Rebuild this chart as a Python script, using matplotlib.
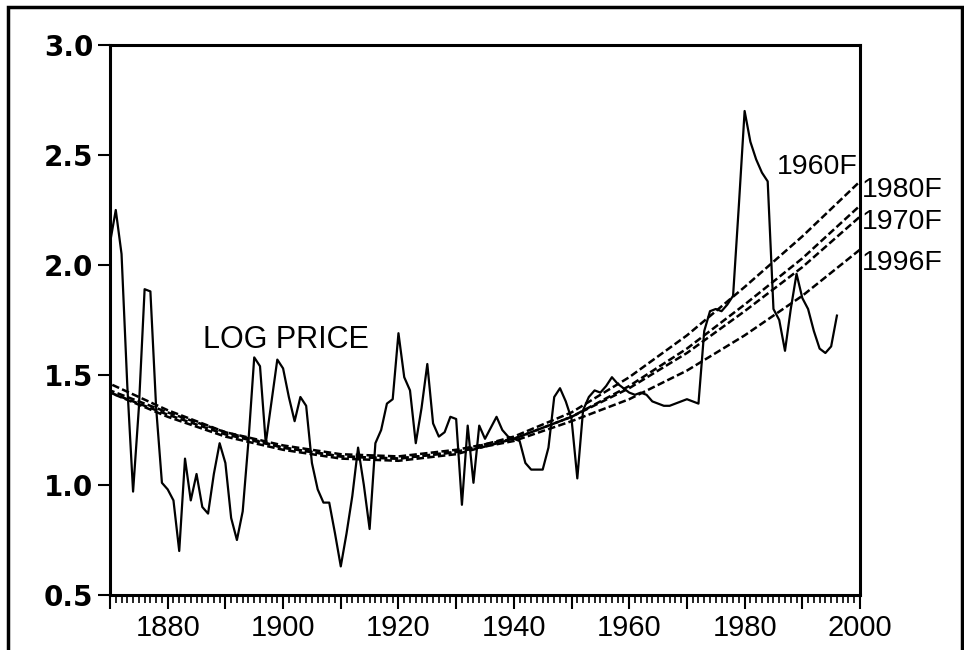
import matplotlib.pyplot as plt
from matplotlib import font_manager
from matplotlib.patches import Rectangle
from matplotlib.ticker import MultipleLocator, FuncFormatter

# ---- du lieu: gia (log) theo nam ----
nam = list(range(1870, 1997))
log_price = [
    2.10, 2.25, 2.05, 1.45, 0.97, 1.35, 1.89, 1.88, 1.35, 1.01,   # 1870-1879
    0.98, 0.93, 0.70, 1.12, 0.93, 1.05, 0.90, 0.87, 1.05, 1.19,   # 1880-1889
    1.10, 0.85, 0.75, 0.88, 1.20, 1.58, 1.54, 1.19, 1.38, 1.57,   # 1890-1899
    1.53, 1.40, 1.29, 1.40, 1.36, 1.10, 0.98, 0.92, 0.92, 0.78,   # 1900-1909
    0.63, 0.78, 0.95, 1.17, 1.00, 0.80, 1.19, 1.25, 1.37, 1.39,   # 1910-1919
    1.69, 1.49, 1.43, 1.19, 1.35, 1.55, 1.28, 1.22, 1.24, 1.31,   # 1920-1929
    1.30, 0.91, 1.27, 1.01, 1.27, 1.21, 1.26, 1.31, 1.25, 1.22,   # 1930-1939
    1.21, 1.20, 1.10, 1.07, 1.07, 1.07, 1.17, 1.40, 1.44, 1.38,   # 1940-1949
    1.30, 1.03, 1.34, 1.40, 1.43, 1.42, 1.45, 1.49, 1.46, 1.44,   # 1950-1959
    1.42, 1.41, 1.42, 1.41, 1.38, 1.37, 1.36, 1.36, 1.37, 1.38,   # 1960-1969
    1.39, 1.38, 1.37, 1.70, 1.79, 1.80, 1.79, 1.82, 1.86, 2.27,   # 1970-1979
    2.70, 2.56, 2.48, 2.42, 2.38, 1.80, 1.75, 1.61, 1.80, 1.96,   # 1980-1989
    1.85, 1.80, 1.70, 1.62, 1.60, 1.63, 1.77,                     # 1990-1996
]

# ---- cac duong xu huong / du bao (doc tu hinh, moi 10 nam) ----
nam_xu_huong = list(range(1870, 2001, 10))
du_bao = {
    "1960F": [1.42, 1.32, 1.23, 1.17, 1.13, 1.12, 1.15, 1.22, 1.33, 1.49, 1.68, 1.90, 2.13, 2.38],
    "1980F": [1.43, 1.33, 1.24, 1.18, 1.14, 1.13, 1.16, 1.21, 1.31, 1.45, 1.62, 1.82, 2.03, 2.27],
    "1970F": [1.42, 1.31, 1.22, 1.16, 1.12, 1.11, 1.14, 1.21, 1.31, 1.44, 1.60, 1.79, 1.99, 2.22],
    "1996F": [1.46, 1.34, 1.24, 1.17, 1.13, 1.12, 1.15, 1.20, 1.29, 1.39, 1.52, 1.68, 1.86, 2.07],
}
# vi tri nhan: (nam, gia tri, canh ngang)
nhan = {
    "1960F": (1999.6, 2.445, 'right'),
    "1980F": (2000.3, 2.34, 'left'),
    "1970F": (2000.3, 2.195, 'left'),
    "1996F": (2000.3, 2.01, 'left'),
}

# font
co_san = {f.name for f in font_manager.fontManager.ttflist}
font_hep = "Liberation Sans Narrow" if "Liberation Sans Narrow" in co_san else "Liberation Sans"
plt.rcParams['font.family'] = ['Liberation Sans', 'DejaVu Sans']

fig = plt.figure(figsize=(9.64, 6.5), dpi=100)
ax = fig.add_axes([110 / 964, 55 / 650, 750 / 964, 550 / 650])

# khung ngoai
fig.patches.append(Rectangle((8 / 964, -0.1), 954 / 964, 1.089, transform=fig.transFigure,
                             fill=False, edgecolor='black', linewidth=2.5))

# duong gia
ax.plot(nam, log_price, color='black', linewidth=1.6, zorder=3)

# duong du bao (net dut)
for i, (ten, gia_tri) in enumerate(du_bao.items()):
    ax.plot(nam_xu_huong, gia_tri, color='black', linewidth=1.8,
            linestyle=(i * 1.1, (3, 1.3)), zorder=2)
    x, y, canh = nhan[ten]
    ax.text(x, y, ten, fontsize=20.5, ha=canh, va='center', clip_on=False)

ax.text(1886.1, 1.66, "LOG PRICE", fontsize=22, ha='left', va='center')

ax.set_xlim(1870, 2000)
ax.set_ylim(0.5, 3.0)

# truc
for s in ax.spines.values():
    s.set_linewidth(2.2)
ax.yaxis.set_major_locator(MultipleLocator(0.5))
ax.yaxis.set_major_formatter(FuncFormatter(lambda v, p: f"{v:.1f}"))
ax.xaxis.set_major_locator(MultipleLocator(10))
ax.xaxis.set_minor_locator(MultipleLocator(1))
ax.xaxis.set_major_formatter(FuncFormatter(lambda v, p: f"{int(v)}" if int(v) % 20 == 0 and v > 1870 else ""))
ax.tick_params(axis='y', direction='out', length=9, width=1.5, labelsize=20, pad=3)
ax.tick_params(axis='x', which='major', direction='out', length=10, width=1.5, labelsize=21, pad=4)
ax.tick_params(axis='x', which='minor', direction='out', length=6, width=1.2)
for lb in ax.get_yticklabels():
    lb.set_fontweight('bold')
    lb.set_fontfamily('DejaVu Sans')
for lb in ax.get_xticklabels():
    lb.set_fontfamily(font_hep)

fig.savefig("out.png", dpi=100)
